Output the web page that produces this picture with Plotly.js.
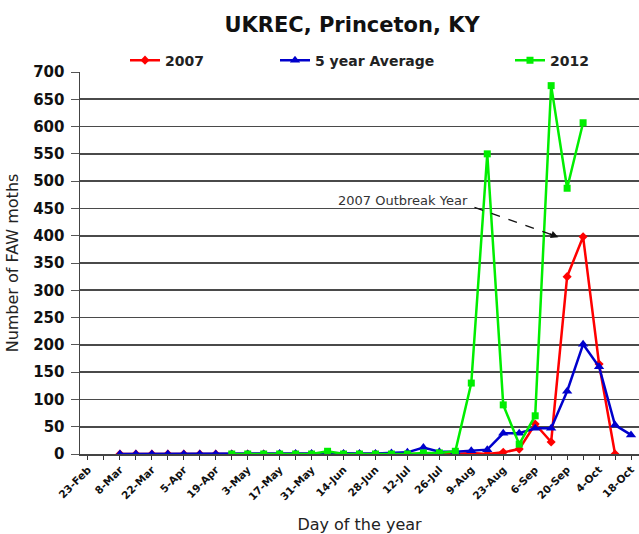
<!DOCTYPE html>
<html>
<head>
<meta charset="utf-8">
<script src="https://cdn.plot.ly/plotly-3.0.1.min.js"></script>
<style>html,body{margin:0;padding:0;background:#fff;}#chart{width:639px;height:534px;}</style>
</head>
<body>
<div id="chart"></div>
<script>
// Weekly sampling dates (day of the year)
const weeks = ['23-Feb','1-Mar','8-Mar','15-Mar','22-Mar','29-Mar','5-Apr','12-Apr','19-Apr','26-Apr',
  '3-May','10-May','17-May','24-May','31-May','7-Jun','14-Jun','21-Jun','28-Jun','5-Jul',
  '12-Jul','19-Jul','26-Jul','2-Aug','9-Aug','16-Aug','23-Aug','30-Aug','6-Sep','13-Sep',
  '20-Sep','27-Sep','4-Oct','11-Oct','18-Oct'];
// Labels shown every other week
const tickLabels = weeks.map((w, i) => (i % 2 === 0 ? w : ''));

const moths2007 = [null,null,0,0,0,0,0,0,0,0,
  0,0,0,0,0,0,0,0,0,0,
  0,0,0,0,2,0,3,9,55,22,
  325,398,165,0,null];
const moths5yrAvg = [null,null,0,0,0,0,0,0,0,0,
  0,0,1,1,1,2,1,1,1,2,
  3,12,4,4,6,8,38,38,47,47,
  115,201,160,53,35];
const moths2012 = [null,null,null,null,null,null,null,null,null,0,
  0,0,0,0,0,5,0,0,0,0,
  0,2,2,5,130,550,90,18,70,675,
  487,607,null,null,null];

const FONT = 'DejaVu Sans, Liberation Sans, Arial, sans-serif';

const traces = [
  {x: weeks, y: moths2007, name: '2007', type: 'scatter', mode: 'lines+markers', showlegend: true,
   line: {color: '#ff0000', width: 2.5}, marker: {symbol: 'diamond', size: 7, color: '#ff0000'},
   legend: 'legend'},
  {x: weeks, y: moths5yrAvg, name: '5 year Average', type: 'scatter', mode: 'lines+markers', showlegend: true,
   line: {color: '#0000cc', width: 2.5}, marker: {symbol: 'triangle-up', size: 9, color: '#0000cc'},
   legend: 'legend2'},
  {x: weeks, y: moths2012, name: '2012', type: 'scatter', mode: 'lines+markers', showlegend: true,
   line: {color: '#00ee00', width: 2.5}, marker: {symbol: 'square', size: 7, color: '#00ee00'},
   legend: 'legend3'}
];

function legendAt(px) {
  return {orientation: 'h', yanchor: 'middle', xanchor: 'left', y: 1.03, x: (px - 80) / 559,
    font: {family: FONT, size: 14, color: '#222', weight: 'bold'}, bgcolor: 'rgba(0,0,0,0)', visible: true};
}

const layout = {
  width: 639, height: 534,
  showlegend: true,
  margin: {l: 80, r: 0, t: 72, b: 80},
  paper_bgcolor: '#fff', plot_bgcolor: '#fff',
  title: {text: '<b>UKREC, Princeton, KY</b>', x: 0.551, xref: 'container', xanchor: 'center',
          y: 0.953, yref: 'container', yanchor: 'middle',
          font: {family: FONT, size: 21, color: '#111'}},
  xaxis: {type: 'category', range: [-0.5, 34.5], tickmode: 'array', tickvals: weeks, ticktext: tickLabels,
          tickangle: -45, tickfont: {family: FONT, size: 10.5, color: '#111', weight: 'bold'},
          ticks: 'outside', ticklen: 4, tickcolor: '#333',
          showgrid: false, showline: true, linecolor: '#444', linewidth: 1.5,
          title: {text: 'Day of the year', font: {family: FONT, size: 16, color: '#222'}, standoff: 18},
          automargin: false},
  yaxis: {range: [0, 700], dtick: 50, tickfont: {family: FONT, size: 15, color: '#111', weight: 'bold'},
          ticks: 'outside', ticklen: 8, tickcolor: '#555', ticklabelstandoff: 3,
          showgrid: true, gridcolor: '#4a4a4a', gridwidth: 1.6, zeroline: false,
          showline: true, linecolor: '#444', linewidth: 1.5,
          title: {text: 'Number of FAW moths', font: {family: FONT, size: 16, color: '#222'}, standoff: 10},
          automargin: false},
  legend: legendAt(125),
  legend2: legendAt(275),
  legend3: legendAt(510),
  shapes: [
    {type: 'line', xref: 'x', yref: 'y', x0: 24.2, y0: 452, x1: 29.2, y1: 400,
     line: {color: '#111', width: 1.3, dash: 'dash'}}
  ],
  annotations: [
    {text: '2007 Outbreak Year', xref: 'x', yref: 'y', x: 19.7, y: 465, showarrow: false,
     font: {family: FONT, size: 13, color: '#333'}},
    {text: '', xref: 'x', yref: 'y', x: 29.45, y: 397, ax: -10, ay: -4, showarrow: true,
     arrowhead: 2, arrowsize: 1, arrowwidth: 1.5, arrowcolor: '#111'}
  ]
};

Plotly.newPlot('chart', traces, layout, {staticPlot: true, displayModeBar: false});
</script>
</body>
</html>
